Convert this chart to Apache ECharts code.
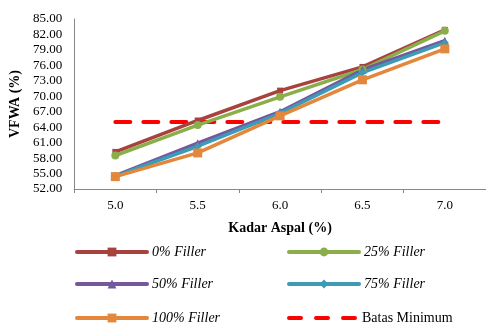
<!DOCTYPE html>
<html>
<head>
<meta charset="utf-8">
<script src="https://cdn.jsdelivr.net/npm/echarts@6/dist/echarts.min.js"></script>
<style>
  html, body { margin: 0; padding: 0; background: #fff; }
  #chart { width: 486px; height: 324px; }
</style>
</head>
<body>
<div id="chart"></div>
<script>
// Asphalt content (%) on the x axis
const kadarAspal = ['5.0', '5.5', '6.0', '6.5', '7.0'];

// VFWA (%) for each filler proportion
const filler0   = [59.2, 65.3, 71.1, 75.7, 82.9];
const filler25  = [58.5, 64.4, 69.9, 75.2, 82.7];
const filler50  = [54.6, 60.9, 67.0, 75.1, 80.8];
const filler75  = [54.5, 60.3, 66.7, 74.6, 80.4];
const filler100 = [54.4, 59.0, 66.2, 73.2, 79.2];

// Specification minimum
const batasMinimum = [65, 65, 65, 65, 65];

const serif = '"Liberation Serif", "DejaVu Serif", serif';

function fillerSeries(name, data, color, symbol, size) {
  return {
    name: name,
    type: 'line',
    data: data,
    symbol: symbol,
    symbolSize: size,
    lineStyle: { color: color, width: 3.5 },
    itemStyle: { color: color },
    z: 3
  };
}

// one legend entry per slot: two columns, three rows
function legendItem(entry, left, top, italicText, height) {
  return {
    left: left,
    top: top,
    itemWidth: 70,
    itemHeight: height || 11,
    padding: 0,
    lineStyle: { width: 4, cap: 'round' },
    textStyle: {
      fontFamily: serif, fontSize: 14, color: '#000',
      fontStyle: italicText ? 'italic' : 'normal'
    },
    data: [entry]
  };
}

// three short dashes for the minimum-limit legend key
const dashIcon = 'path://M2,0H14A2,2 0 0 1 14,4H2A2,2 0 0 1 2,0Z'
  + 'M29,0H41A2,2 0 0 1 41,4H29A2,2 0 0 1 29,0Z'
  + 'M56,0H68A2,2 0 0 1 68,4H56A2,2 0 0 1 56,0Z';

const chart = echarts.init(document.getElementById('chart'), null, { renderer: 'canvas' });

chart.setOption({
  animation: false,
  backgroundColor: '#ffffff',
  textStyle: { fontFamily: serif },
  grid: { left: 74, top: 19, width: 415, height: 170 },
  xAxis: {
    type: 'category',
    data: kadarAspal,
    boundaryGap: true,
    name: 'Kadar Aspal (%)',
    nameLocation: 'middle',
    nameGap: 32,
    nameTextStyle: { fontFamily: serif, fontWeight: 'bold', fontSize: 14, color: '#000' },
    axisLine: { lineStyle: { color: '#888', width: 1 } },
    axisTick: { show: true, length: 4, lineStyle: { color: '#888' } },
    axisLabel: { fontFamily: serif, fontSize: 13, color: '#000', margin: 10 }
  },
  yAxis: {
    type: 'value',
    min: 52,
    max: 85,
    interval: 3,
    name: 'VFWA (%)',
    nameLocation: 'middle',
    nameGap: 48,
    nameRotate: 90,
    nameTextStyle: { fontFamily: serif, fontWeight: 'bold', fontSize: 14, color: '#000' },
    axisLine: { show: true, lineStyle: { color: '#888', width: 1 } },
    axisTick: { show: false },
    splitLine: { show: false },
    axisLabel: {
      fontFamily: serif, fontSize: 13, color: '#000', margin: 12,
      formatter: v => v.toFixed(2)
    }
  },
  legend: [
    legendItem('0% Filler', 75, 245, true),
    legendItem('50% Filler', 75, 277, true),
    legendItem('100% Filler', 75, 311, true),
    legendItem('25% Filler', 287, 245, true),
    legendItem('75% Filler', 287, 277, true),
    legendItem({ name: 'Batas Minimum', icon: dashIcon }, 287, 311, false, 4)
  ],
  series: [
    fillerSeries('0% Filler', filler0, '#A8423F', 'rect', 6),
    fillerSeries('25% Filler', filler25, '#8AAE4A', 'circle', 8),
    fillerSeries('50% Filler', filler50, '#75579E', 'triangle', 8),
    fillerSeries('75% Filler', filler75, '#3C9CB6', 'diamond', 8),
    fillerSeries('100% Filler', filler100, '#E2873C', 'rect', 9),
    {
      name: 'Batas Minimum',
      type: 'line',
      data: batasMinimum,
      symbol: 'none',
      lineStyle: { color: '#FF0000', width: 4, type: [15, 13], cap: 'round' },
      itemStyle: { color: '#FF0000' },
      z: 2
    }
  ]
});
</script>
</body>
</html>
